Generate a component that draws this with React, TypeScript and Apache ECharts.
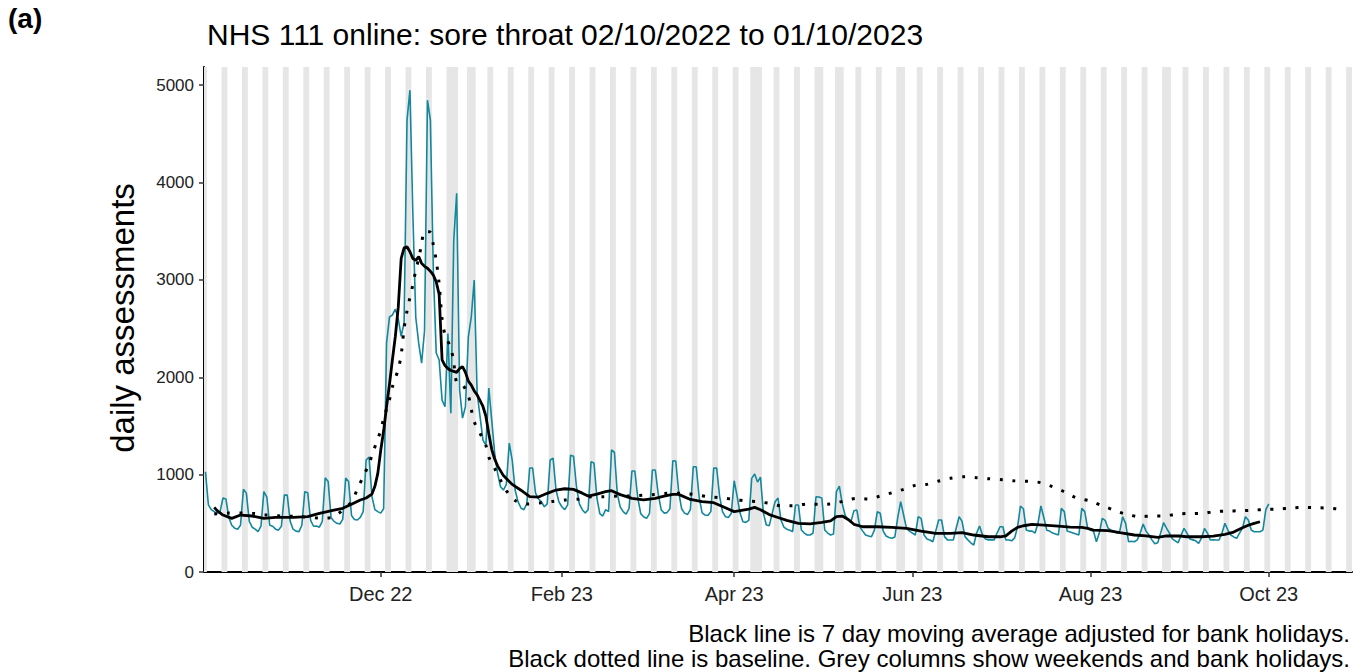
import React, { useEffect, useRef } from "react";
import * as echarts from "echarts";

// ---------- data ----------
const START_DATE = "2022-10-02"; // first daily value (Sunday)

// daily NHS 111 online assessments, 2022-10-02 .. 2023-10-01 (one row per week, Sun..Sat)
const dailyAssessments = [
  1030, 690, 640, 620, 600, 620, 760,
  750, 560, 480, 450, 440, 480, 850,
  810, 520, 460, 440, 415, 470, 825,
  770, 480, 470, 440, 430, 470, 790,
  790, 520, 440, 420, 414, 480, 825,
  815, 530, 470, 472, 460, 520, 968,
  930, 560, 520, 500, 493, 540, 965,
  930, 580, 540, 534, 560, 620, 1150,
  1180, 773, 640, 620, 605, 650, 2350,
  2621, 2640, 2700, 2600, 2420, 2560, 4641,
  4949, 3678, 2614, 2350, 2146, 2480, 4846,
  4641, 3100, 2250, 2177, 1766, 1697, 2450,
  1630, 3409, 3890, 1870, 1580, 1697, 2416,
  2621, 2998, 1836, 1595, 1355, 1304, 1890,
  1560, 1222, 1016, 876, 842, 900, 1324,
  1150, 842, 722, 657, 640, 700, 1068,
  1068, 811, 750, 722, 670, 700, 1150,
  1170, 842, 720, 670, 640, 690, 1200,
  1190, 876, 700, 640, 605, 640, 1132,
  1120, 760, 600, 575, 640, 620, 1253,
  1230, 800, 667, 620, 595, 650, 1037,
  1037, 760, 600, 568, 551, 600, 1047,
  1047, 800, 640, 605, 610, 650, 1143,
  1140, 820, 650, 605, 590, 640, 1081,
  1081, 770, 610, 585, 580, 620, 1067,
  1067, 780, 620, 568, 560, 600, 937,
  780, 605, 516, 510, 530, 962, 1006,
  924, 975, 605, 483, 476, 600, 722,
  760, 534, 462, 440, 430, 414, 688,
  688, 431, 400, 380, 380, 400, 773,
  770, 760, 431, 400, 380, 390, 825,
  883, 700, 580, 540, 520, 630, 636,
  465, 420, 380, 370, 362, 430, 619,
  603, 420, 370, 355, 346, 360, 560,
  722, 585, 448, 420, 400, 380, 568,
  551, 380, 340, 329, 311, 420, 534,
  534, 363, 330, 329, 329, 450, 568,
  520, 363, 330, 300, 277, 400, 472,
  380, 340, 330, 330, 330, 400, 465,
  465, 329, 329, 320, 350, 460, 678,
  650, 431, 420, 420, 400, 500, 678,
  560, 430, 420, 400, 390, 380, 654,
  620, 420, 410, 400, 390, 380, 654,
  620, 450, 430, 420, 311, 400, 551,
  530, 450, 430, 420, 400, 420, 568,
  500, 311, 315, 311, 330, 400, 493,
  420, 380, 330, 290, 300, 400, 506,
  450, 400, 340, 320, 300, 380, 448,
  400, 340, 330, 320, 294, 350, 448,
  400, 329, 330, 329, 329, 400, 500,
  431, 380, 360, 346, 400, 450, 568,
  534, 431, 414, 414, 414, 430, 640,
  700,
];

// 7 day moving average (adjusted for bank holidays)
const maDates = [
  "2022-10-05", "2022-10-06", "2022-10-08", "2022-10-11", "2022-10-14", "2022-10-18", "2022-10-22",
  "2022-10-26", "2022-11-01", "2022-11-06", "2022-11-10", "2022-11-15", "2022-11-18", "2022-11-21",
  "2022-11-24", "2022-11-26", "2022-11-28", "2022-11-29", "2022-11-30", "2022-12-01", "2022-12-02",
  "2022-12-03", "2022-12-04", "2022-12-05", "2022-12-06", "2022-12-07", "2022-12-08", "2022-12-09",
  "2022-12-10", "2022-12-11", "2022-12-12", "2022-12-13", "2022-12-14", "2022-12-15", "2022-12-16",
  "2022-12-17", "2022-12-18", "2022-12-19", "2022-12-20", "2022-12-21", "2022-12-22", "2022-12-23",
  "2022-12-24", "2022-12-25", "2022-12-26", "2022-12-27", "2022-12-28", "2022-12-29", "2022-12-30",
  "2022-12-31", "2023-01-01", "2023-01-02", "2023-01-03", "2023-01-04", "2023-01-05", "2023-01-06",
  "2023-01-07", "2023-01-08", "2023-01-09", "2023-01-10", "2023-01-12", "2023-01-15", "2023-01-18",
  "2023-01-21", "2023-01-24", "2023-01-27", "2023-01-30", "2023-02-02", "2023-02-05", "2023-02-08",
  "2023-02-10", "2023-02-13", "2023-02-16", "2023-02-18", "2023-02-21", "2023-02-25", "2023-03-01",
  "2023-03-05", "2023-03-08", "2023-03-11", "2023-03-13", "2023-03-17", "2023-03-21", "2023-03-25",
  "2023-03-29", "2023-04-01", "2023-04-03", "2023-04-06", "2023-04-08", "2023-04-10", "2023-04-13",
  "2023-04-16", "2023-04-19", "2023-04-23", "2023-04-27", "2023-05-01", "2023-05-04", "2023-05-06",
  "2023-05-08", "2023-05-10", "2023-05-12", "2023-05-15", "2023-05-20", "2023-05-25", "2023-05-30",
  "2023-06-04", "2023-06-09", "2023-06-14", "2023-06-18", "2023-06-22", "2023-06-27", "2023-07-01",
  "2023-07-03", "2023-07-05", "2023-07-07", "2023-07-09", "2023-07-12", "2023-07-16", "2023-07-21",
  "2023-07-25", "2023-07-29", "2023-07-31", "2023-08-02", "2023-08-07", "2023-08-11", "2023-08-16",
  "2023-08-20", "2023-08-24", "2023-08-27", "2023-08-31", "2023-09-03", "2023-09-08", "2023-09-12",
  "2023-09-16", "2023-09-19", "2023-09-22", "2023-09-24", "2023-09-26", "2023-09-28",
];
const maValues = [
  664, 630, 585, 551, 585, 575, 551,
  562, 562, 568, 602, 636, 654, 695,
  739, 760, 800, 880, 1013, 1250, 1450,
  1700, 1930, 2180, 2420, 2720, 3220, 3330,
  3340, 3290, 3220, 3200, 3240, 3170, 3140,
  3120, 3090, 3050, 2980, 2850, 2180, 2120,
  2090, 2070, 2060, 2050, 2090, 2110, 2050,
  1960, 1920, 1860, 1820, 1760, 1700, 1600,
  1420, 1260, 1160, 1090, 990, 900, 840,
  775, 770, 808, 842, 855, 849, 810,
  780, 800, 825, 835, 795, 757, 740,
  757, 780, 797, 797, 745, 722, 712,
  660, 620, 630, 645, 664, 640, 590,
  560, 530, 500, 495, 510, 525, 568,
  575, 540, 490, 465, 465, 458, 448,
  420, 397, 397, 404, 380, 362, 362,
  372, 420, 458, 475, 490, 482, 472,
  460, 458, 448, 431, 424, 404, 380,
  370, 356, 370, 370, 362, 362, 369,
  387, 410, 455, 480, 500, 516,
];

// baseline (dotted)
const baselineDates = [
  "2022-10-05", "2022-10-10", "2022-10-15", "2022-10-19", "2022-10-23", "2022-10-28", "2022-11-01",
  "2022-11-05", "2022-11-10", "2022-11-14", "2022-11-16", "2022-11-18", "2022-11-21", "2022-11-23",
  "2022-11-25", "2022-11-27", "2022-11-28", "2022-11-30", "2022-12-01", "2022-12-02", "2022-12-04",
  "2022-12-05", "2022-12-07", "2022-12-08", "2022-12-09", "2022-12-10", "2022-12-11", "2022-12-12",
  "2022-12-13", "2022-12-14", "2022-12-15", "2022-12-16", "2022-12-18", "2022-12-19", "2022-12-20",
  "2022-12-21", "2022-12-22", "2022-12-23", "2022-12-25", "2022-12-26", "2022-12-27", "2022-12-29",
  "2022-12-31", "2023-01-01", "2023-01-02", "2023-01-04", "2023-01-06", "2023-01-07", "2023-01-09",
  "2023-01-11", "2023-01-13", "2023-01-16", "2023-01-20", "2023-01-25", "2023-01-29", "2023-02-02",
  "2023-02-07", "2023-02-11", "2023-02-15", "2023-02-20", "2023-02-24", "2023-03-01", "2023-03-05",
  "2023-03-09", "2023-03-14", "2023-03-18", "2023-03-23", "2023-03-27", "2023-04-01", "2023-04-05",
  "2023-04-09", "2023-04-13", "2023-04-17", "2023-04-21", "2023-04-26", "2023-04-30", "2023-05-04",
  "2023-05-09", "2023-05-13", "2023-05-17", "2023-05-21", "2023-05-25", "2023-05-29", "2023-06-02",
  "2023-06-06", "2023-06-10", "2023-06-14", "2023-06-19", "2023-06-23", "2023-06-27", "2023-07-02",
  "2023-07-06", "2023-07-11", "2023-07-15", "2023-07-19", "2023-07-23", "2023-07-27", "2023-08-01",
  "2023-08-05", "2023-08-09", "2023-08-13", "2023-08-18", "2023-08-22", "2023-08-26", "2023-08-30",
  "2023-09-04", "2023-09-08", "2023-09-12", "2023-09-17", "2023-09-21", "2023-09-26", "2023-09-30",
  "2023-10-04", "2023-10-09", "2023-10-13", "2023-10-18", "2023-10-22", "2023-10-26",
];
const baselineValues = [
  595, 605, 605, 600, 585, 575, 572,
  565, 554, 559, 590, 636, 722, 850,
  980, 1110, 1200, 1370, 1450, 1578, 1770,
  1900, 2084, 2230, 2500, 2680, 2820, 2950,
  3100, 3220, 3370, 3500, 3490, 3360, 3200,
  2960, 2600, 2440, 2300, 2150, 1950, 1925,
  1810, 1670, 1543, 1424, 1300, 1180, 1064,
  945, 835, 735, 698, 711, 725, 739,
  749, 773, 773, 780, 780, 790, 797,
  808, 808, 797, 773, 763, 746, 730,
  722, 705, 681, 681, 698, 695, 698,
  732, 757, 749, 780, 814, 849, 890,
  900, 934, 962, 979, 968, 958, 948,
  936, 931, 917, 876, 825, 763, 729,
  681, 636, 595, 568, 575, 575, 592,
  602, 602, 619, 626, 629, 636, 643,
  647, 657, 664, 660, 654, 643,
];

const bankHolidays = [
  "2022-12-26", "2022-12-27", "2023-01-02", "2023-04-07", "2023-04-10",
  "2023-05-01", "2023-05-08", "2023-05-29", "2023-08-28",
];
const GREY_FIRST = "2022-10-02";
const GREY_LAST = "2023-10-29";

const xTickDates = ["2022-12-01", "2023-02-01", "2023-04-01", "2023-06-01", "2023-08-01", "2023-10-01"];
const xTickLabels = ["Dec 22", "Feb 23", "Apr 23", "Jun 23", "Aug 23", "Oct 23"];
const yTicks = [0, 1000, 2000, 3000, 4000, 5000];

const X_MIN = "2022-10-01T12:00:00Z";
const X_MAX = "2023-10-29T12:00:00Z";
const Y_MAX = 5187;

const TITLE = "NHS 111 online: sore throat 02/10/2022 to 01/10/2023";
const PANEL = "(a)";
const Y_NAME = "daily assessments";
const CAPTION_1 = "Black line is 7 day moving average adjusted for bank holidays.";
const CAPTION_2 = "Black dotted line is baseline. Grey columns show weekends and bank holidays.";

const FONT = "'Liberation Sans', Arial, Helvetica, sans-serif";
const TEAL = "#13879c";
const DAY_MS = 86400000;

function buildOption() {
  const start = Date.parse(START_DATE);
  const daily = dailyAssessments.map((v, i) => [start + i * DAY_MS, v]);
  const ma = maDates.map((d, i) => [Date.parse(d), maValues[i]]);
  const base = baselineDates.map((d, i) => [Date.parse(d), baselineValues[i]]);

  const greyRuns: number[][] = [];
  const last = Date.parse(GREY_LAST);
  let runStart: number | null = null;
  for (let t = Date.parse(GREY_FIRST); t <= last; t += DAY_MS) {
    const dt = new Date(t);
    const iso = dt.toISOString().slice(0, 10);
    const wd = dt.getUTCDay();
    const grey = wd === 0 || wd === 6 || bankHolidays.includes(iso);
    if (grey && runStart === null) runStart = t;
    if (!grey && runStart !== null) {
      greyRuns.push([runStart - DAY_MS / 2, t - DAY_MS / 2]);
      runStart = null;
    }
  }
  if (runStart !== null) greyRuns.push([runStart - DAY_MS / 2, last + DAY_MS / 2]);

  const xTickMs = xTickDates.map((d) => Date.parse(d));
  const xMin = Date.parse(X_MIN);
  const xMax = Date.parse(X_MAX);

  return {
    animation: false,
    textStyle: { fontFamily: FONT },
    grid: { left: 204, right: 10, top: 67, bottom: 100, containLabel: false },
    xAxis: {
      type: "value",
      min: xMin,
      max: xMax,
      axisLine: { show: true, onZero: false, lineStyle: { color: "#000", width: 2 } },
      axisTick: { show: true, length: 5, customValues: xTickMs, lineStyle: { color: "#333", width: 1.5 } },
      axisLabel: {
        customValues: xTickMs,
        margin: 12,
        fontSize: 20,
        color: "#222",
        fontFamily: FONT,
        formatter: (v: number) => {
          const idx = xTickMs.indexOf(v);
          return idx >= 0 ? xTickLabels[idx] : "";
        },
      },
      splitLine: { show: false },
    },
    yAxis: {
      type: "value",
      min: 0,
      max: Y_MAX,
      axisLine: { show: true, lineStyle: { color: "#000", width: 2 } },
      axisTick: { show: true, length: 5, customValues: yTicks, lineStyle: { color: "#333", width: 1.5 } },
      axisLabel: {
        customValues: yTicks,
        margin: 10,
        fontSize: 17,
        color: "#222",
        fontFamily: FONT,
        formatter: (v: number) => String(Math.round(v)),
      },
      splitLine: { show: false },
    },
    graphic: [
      {
        type: "text",
        left: 8,
        top: 4,
        style: { text: PANEL, fontSize: 28, fontWeight: "bold", fill: "#000", fontFamily: FONT },
      },
      {
        type: "text",
        left: 207,
        top: 19,
        style: { text: TITLE, fontSize: 30, fill: "#000", fontFamily: FONT },
      },
      {
        type: "text",
        x: 122,
        y: 318,
        rotation: Math.PI / 2,
        style: {
          text: Y_NAME,
          fontSize: 33,
          fill: "#000",
          fontFamily: FONT,
          textAlign: "center",
          textVerticalAlign: "middle",
        },
      },
      {
        type: "text",
        x: 1350,
        y: 633,
        style: { text: CAPTION_1, fontSize: 24, fill: "#000", fontFamily: FONT, textAlign: "right", textVerticalAlign: "middle" },
      },
      {
        type: "text",
        x: 1350,
        y: 658,
        style: { text: CAPTION_2, fontSize: 24, fill: "#000", fontFamily: FONT, textAlign: "right", textVerticalAlign: "middle" },
      },
    ],
    series: [
      {
        type: "custom",
        name: "grey",
        silent: true,
        clip: true,
        z: 1,
        data: greyRuns,
        encode: { x: [0, 1] },
        renderItem: (params: any, api: any) => {
          const a = api.coord([api.value(0), Y_MAX]);
          const b = api.coord([api.value(1), 0]);
          return {
            type: "rect",
            shape: { x: a[0], y: a[1], width: b[0] - a[0], height: b[1] - a[1] },
            style: { fill: "#e6e6e6" },
          };
        },
      },
      {
        type: "line",
        name: "daily",
        data: daily,
        showSymbol: false,
        symbol: "none",
        silent: true,
        z: 2,
        lineStyle: { color: TEAL, width: 1.6 },
      },
      {
        type: "line",
        name: "baseline",
        data: base,
        showSymbol: false,
        symbol: "none",
        smooth: 0.3,
        silent: true,
        z: 3,
        lineStyle: { color: "#000", width: 3, type: [3, 9.6] },
      },
      {
        type: "line",
        name: "ma",
        data: ma,
        showSymbol: false,
        symbol: "none",
        silent: true,
        z: 4,
        lineStyle: { color: "#000", width: 2.8 },
      },
    ],
  };
}

export default function App() {
  const ref = useRef<HTMLDivElement>(null);
  useEffect(() => {
    if (!ref.current) return;
    const chart = echarts.init(ref.current, undefined, { renderer: "svg" });
    chart.setOption(buildOption() as any);
    return () => chart.dispose();
  }, []);
  return (
    <div
      ref={ref}
      style={{ width: 1362, height: 672, position: "absolute", left: 0, top: 0, background: "#fff" }}
    />
  );
}
